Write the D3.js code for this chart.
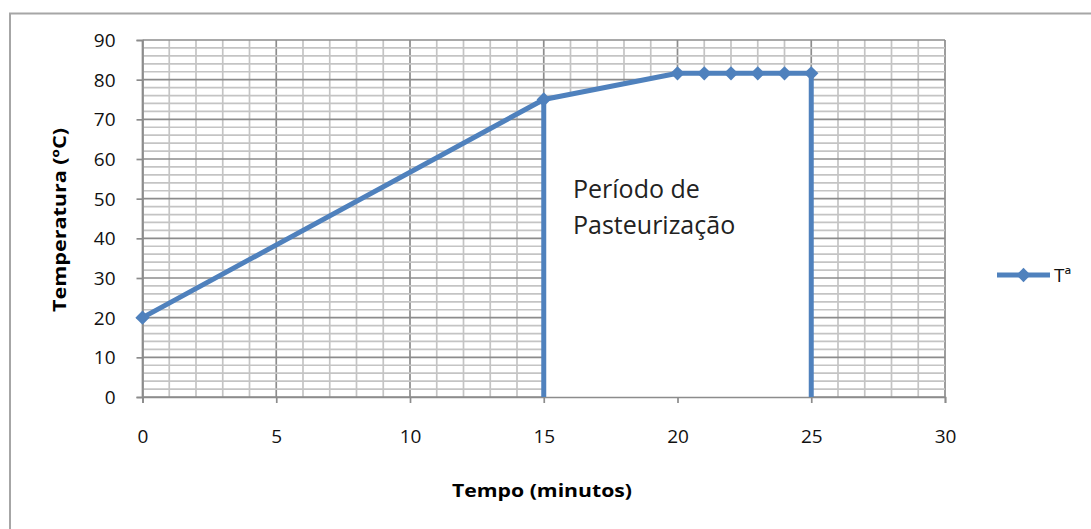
<!DOCTYPE html>
<html>
<head>
<meta charset="utf-8">
<script src="https://cdn.jsdelivr.net/npm/d3@7"></script>
<style>
  html, body { margin: 0; padding: 0; background: #fff; }
  svg { display: block; font-family: "Open Sans", sans-serif; }
</style>
</head>
<body>
<svg id="chart" width="1091" height="529"></svg>
<script>
// Temperature (ºC) over time (minutes)
const tempo = [0, 15, 20, 21, 22, 23, 24, 25];
const temperatura = [20, 75, 81.6, 81.6, 81.6, 81.6, 81.6, 81.6];

// Start and end of the pasteurization period (vertical markers down to 0)
const inicioPeriodo = [{ t: 15, v: 0 }, { t: 15, v: 75 }];
const fimPeriodo = [{ t: 25, v: 0 }, { t: 25, v: 81.6 }];

const xTicks = [0, 5, 10, 15, 20, 25, 30];
const yTicks = [0, 10, 20, 30, 40, 50, 60, 70, 80, 90];
const xMinor = d3.range(0, 31, 1);
const yMinor = d3.range(0, 91, 2);

const seriesName = "Tª";
const xTitle = "Tempo (minutos)";
const yTitle = "Temperatura (ºC)";
const annotation = ["Período de", "Pasteurização"];

const blue = "#4f81bd";
const font = "'Open Sans', sans-serif";
const svg = d3.select("#chart");

// chart frame
svg.append("rect")
  .attr("x", 10).attr("y", 13.5)
  .attr("width", 1100).attr("height", 530)
  .attr("fill", "none").attr("stroke", "#a6a6a6").attr("stroke-width", 2);

const x = d3.scaleLinear().domain([0, 30]).range([142.5, 945]);
const y = d3.scaleLinear().domain([0, 90]).range([397, 40]);

const grid = svg.append("g");
grid.selectAll("line.v").data(xMinor).join("line")
  .attr("x1", d => x(d)).attr("x2", d => x(d))
  .attr("y1", y(0)).attr("y2", y(90))
  .attr("stroke", d => d % 5 === 0 ? "#8c8c8c" : "#c4c4c4")
  .attr("stroke-width", 1.7);
grid.selectAll("line.h").data(yMinor).join("line")
  .attr("x1", x(0)).attr("x2", x(30))
  .attr("y1", d => y(d)).attr("y2", d => y(d))
  .attr("stroke", d => d % 10 === 0 ? "#8c8c8c" : "#c4c4c4")
  .attr("stroke-width", 1.7);

// white region under the curve during the pasteurization period
const data = tempo.map((t, i) => ({ t, v: temperatura[i] }));
const periodo = data.filter(d => d.t >= 15 && d.t <= 25);
svg.append("path")
  .datum(periodo)
  .attr("fill", "#fff")
  .attr("d", d3.area().x(d => x(d.t)).y0(y(0)).y1(d => y(d.v)));

// axes
const xAxis = svg.append("g")
  .attr("transform", `translate(0,${y(0)})`)
  .call(d3.axisBottom(x).tickValues(xTicks).tickSize(6).tickPadding(27).tickFormat(d3.format("d")));
const yAxis = svg.append("g")
  .attr("transform", `translate(${x(0)},0)`)
  .call(d3.axisLeft(y).tickValues(yTicks).tickSize(6).tickPadding(21).tickFormat(d3.format("d")));
[xAxis, yAxis].forEach(a => {
  a.select(".domain").attr("stroke", "#8c8c8c").attr("stroke-width", 1.7);
  a.selectAll(".tick line").attr("stroke", "#8c8c8c").attr("stroke-width", 1.7);
  a.selectAll(".tick text").attr("fill", "#111").style("font-size", "19px")
    .style("font-family", font);
});
yAxis.selectAll(".tick text").attr("dy", "0.34em");

// vertical period markers
const lineGen = d3.line().x(d => x(d.t)).y(d => y(d.v));
[inicioPeriodo, fimPeriodo].forEach(seg => {
  svg.append("path").datum(seg)
    .attr("d", lineGen)
    .attr("fill", "none").attr("stroke", blue).attr("stroke-width", 5);
});

// temperature series
svg.append("path").datum(data)
  .attr("d", lineGen)
  .attr("fill", "none").attr("stroke", blue).attr("stroke-width", 5)
  .attr("stroke-linejoin", "round");

const diamond = d3.symbol().type(d3.symbolDiamond2).size(130);
svg.selectAll("path.pt").data(data).join("path")
  .attr("class", "pt")
  .attr("transform", d => `translate(${x(d.t)},${y(d.v)})`)
  .attr("d", diamond)
  .attr("fill", blue);

// annotation
svg.append("text")
  .attr("x", 573).attr("y", 198)
  .attr("fill", "#222").style("font-size", "25px")
  .selectAll("tspan").data(annotation).join("tspan")
  .attr("x", 573).attr("dy", (d, i) => i === 0 ? 0 : 36)
  .text(d => d);

// axis titles
svg.append("text")
  .attr("x", 542).attr("y", 497)
  .attr("text-anchor", "middle")
  .style("font-size", "18px").style("font-weight", "bold")
  .attr("textLength", 180).attr("lengthAdjust", "spacingAndGlyphs")
  .text(xTitle);
svg.append("text")
  .attr("transform", "translate(66,220) rotate(-90)")
  .attr("text-anchor", "middle")
  .style("font-size", "18px").style("font-weight", "bold")
  .attr("textLength", 184).attr("lengthAdjust", "spacingAndGlyphs")
  .text(yTitle);

// legend
const lg = svg.append("g").attr("transform", "translate(997,275)");
lg.append("line").attr("x1", 0).attr("x2", 53).attr("y1", 0).attr("y2", 0)
  .attr("stroke", blue).attr("stroke-width", 5);
lg.append("path").attr("transform", "translate(26.5,0)").attr("d", diamond).attr("fill", blue);
lg.append("text").attr("x", 57).attr("y", 7)
  .style("font-size", "19px").attr("fill", "#111")
  .text(seriesName);
</script>
</body>
</html>
